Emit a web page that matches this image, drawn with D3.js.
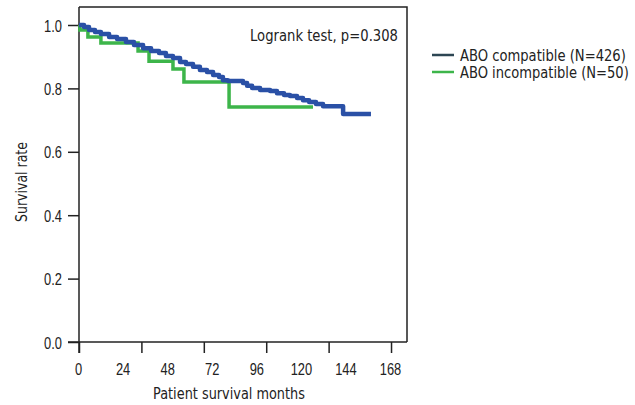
<!DOCTYPE html>
<html>
<head>
<meta charset="utf-8">
<script src="https://cdn.jsdelivr.net/npm/d3@7"></script>
<style>
  body { margin: 0; background: #fff; }
  svg text { font-family: "Liberation Sans Narrow", "DejaVu Sans Condensed", sans-serif; fill: #222; }
</style>
</head>
<body>
<div id="chart"></div>
<script>
// Kaplan-Meier steps (months, survival)
var compatTimes = [0, 2.7, 5.4, 8.6, 11.8, 16.2, 20.5, 25.3, 29.6, 34.5, 38.8, 43.1, 46.8, 50.6, 54.4, 57.6, 61.4, 65.1, 68.9, 72.2, 75.4, 77.5, 80.2, 88.3, 90.5, 93.2, 97.5, 102.9, 106.6, 110.4, 113.6, 117.4, 120.6, 123.9, 127.6, 131.4, 142.2, 157.2];
var compatSurv  = [1.0, 0.994, 0.984, 0.978, 0.972, 0.962, 0.956, 0.946, 0.937, 0.927, 0.918, 0.912, 0.902, 0.896, 0.883, 0.877, 0.868, 0.858, 0.852, 0.842, 0.836, 0.826, 0.823, 0.817, 0.808, 0.801, 0.795, 0.792, 0.785, 0.779, 0.776, 0.770, 0.763, 0.757, 0.751, 0.744, 0.719, 0.719];

var incompTimes = [0, 0.5, 4.8, 11.8, 31.8, 37.7, 50.6, 56.5, 80.8, 126];
var incompSurv  = [1.0, 0.984, 0.962, 0.943, 0.918, 0.886, 0.861, 0.82, 0.741, 0.741];

var xLabels = [0, 24, 48, 72, 96, 120, 144, 168];
var xTickMarks = [0, 33.6, 67.2, 100.8, 134.4, 168];
var yTicks = [0, 0.2, 0.4, 0.6, 0.8, 1.0];

var seriesNames = ["ABO compatible (N=426)", "ABO incompatible (N=50)"];
var w = 635, h = 405;

// the original font is condensed: squeeze each text with a horizontal scale
function squeeze(sel, factor){
  sel.each(function(){
    var t = d3.select(this);
    var tx = +t.attr("x") || 0, ty = +t.attr("y") || 0;
    var prev = t.attr("transform") || "";
    t.attr("x", 0).attr("y", 0)
     .attr("transform", prev + " translate(" + tx + "," + ty + ") scale(" + factor + ",1)");
  });
}
function fitTo(sel, width){
  sel.each(function(){
    var len = this.getComputedTextLength();
    d3.select(this).call(squeeze, width / len);
  });
}

var svg = d3.select("#chart").append("svg")
  .attr("width", w).attr("height", h);

var x = d3.scaleLinear().domain([0, 176.6]).range([79, 407]);
var y = d3.scaleLinear().domain([0, 1]).range([342, 25]);

// frame (top + right)
svg.append("path")
  .attr("d", "M79,7H407V342")
  .attr("fill", "none").attr("stroke", "#222").attr("stroke-width", 1.5);

// y axis
var yAxis = svg.append("g").attr("transform", "translate(79,0)")
  .call(d3.axisLeft(y).tickValues(yTicks).tickFormat(d3.format(".1f")).tickSize(11).tickSizeOuter(0));
yAxis.select(".domain").remove();
yAxis.selectAll("line").attr("stroke", "#222").attr("stroke-width", 1.5);
yAxis.selectAll("text").attr("x", -17).attr("dy", null).attr("y", 6).attr("font-size", 16.5).attr("fill", "#222")
  .style("font-family", "inherit").call(squeeze, 0.78);
svg.append("line").attr("x1", 79).attr("x2", 79).attr("y1", 7).attr("y2", 353)
  .attr("stroke", "#222").attr("stroke-width", 1.5);

// x axis: tick marks and labels are not aligned in the original
var xMarks = svg.append("g").attr("transform", "translate(0,342)")
  .call(d3.axisBottom(x).tickValues(xTickMarks).tickFormat("").tickSize(11).tickSizeOuter(0));
xMarks.select(".domain").remove();
xMarks.selectAll("line").attr("stroke", "#222").attr("stroke-width", 1.5);
svg.append("line").attr("x1", 68).attr("x2", 407).attr("y1", 342).attr("y2", 342)
  .attr("stroke", "#222").attr("stroke-width", 1.5);

var xLab = d3.scaleLinear().domain([0, 168]).range([78, 390]);
var xAxis = svg.append("g").attr("transform", "translate(0,342)")
  .call(d3.axisBottom(xLab).tickValues(xLabels).tickSize(0));
xAxis.select(".domain").remove();
xAxis.selectAll("text").attr("dy", null).attr("y", 33).attr("font-size", 16.5).attr("fill", "#222")
  .style("font-family", "inherit").call(squeeze, 0.78);

// curves
var line = d3.line().curve(d3.curveStepAfter)
  .x(function(d){ return x(d[0]); })
  .y(function(d){ return y(d[1]); });

svg.append("path")
  .datum(d3.zip(incompTimes, incompSurv))
  .attr("d", line)
  .attr("fill", "none").attr("stroke", "#3db54a").attr("stroke-width", 3.5);

svg.append("path")
  .datum(d3.zip(compatTimes, compatSurv))
  .attr("d", line)
  .attr("fill", "none").attr("stroke", "#2a50a6").attr("stroke-width", 4.5)
  .attr("stroke-linejoin", "round");

// titles
svg.append("text").attr("x", 229).attr("y", 399).attr("text-anchor", "middle")
  .attr("font-size", 16.5).text("Patient survival months").call(fitTo, 152);
svg.append("text").attr("transform", "translate(27,182) rotate(-90)")
  .attr("text-anchor", "middle").attr("font-size", 16.5).text("Survival rate").call(fitTo, 80);

svg.append("text").attr("x", 324).attr("y", 41).attr("text-anchor", "middle")
  .attr("font-size", 16.5).text("Logrank test, p=0.308").call(fitTo, 148);

// legend
var legColors = ["#2d4653", "#3db54a"];
var legWidths = [166, 169];
var leg = svg.selectAll(".leg").data(seriesNames).enter().append("g")
  .attr("class", "leg")
  .attr("transform", function(d, i){ return "translate(0," + (i * 17) + ")"; });
leg.append("line").attr("x1", 432).attr("x2", 454).attr("y1", 55).attr("y2", 55)
  .attr("stroke", function(d, i){ return legColors[i]; }).attr("stroke-width", 2.5);
leg.append("text").attr("x", 460).attr("y", 60.5).attr("font-size", 15.5)
  .text(function(d){ return d; })
  .each(function(d, i){ d3.select(this).call(fitTo, legWidths[i]); });
</script>
</body>
</html>
